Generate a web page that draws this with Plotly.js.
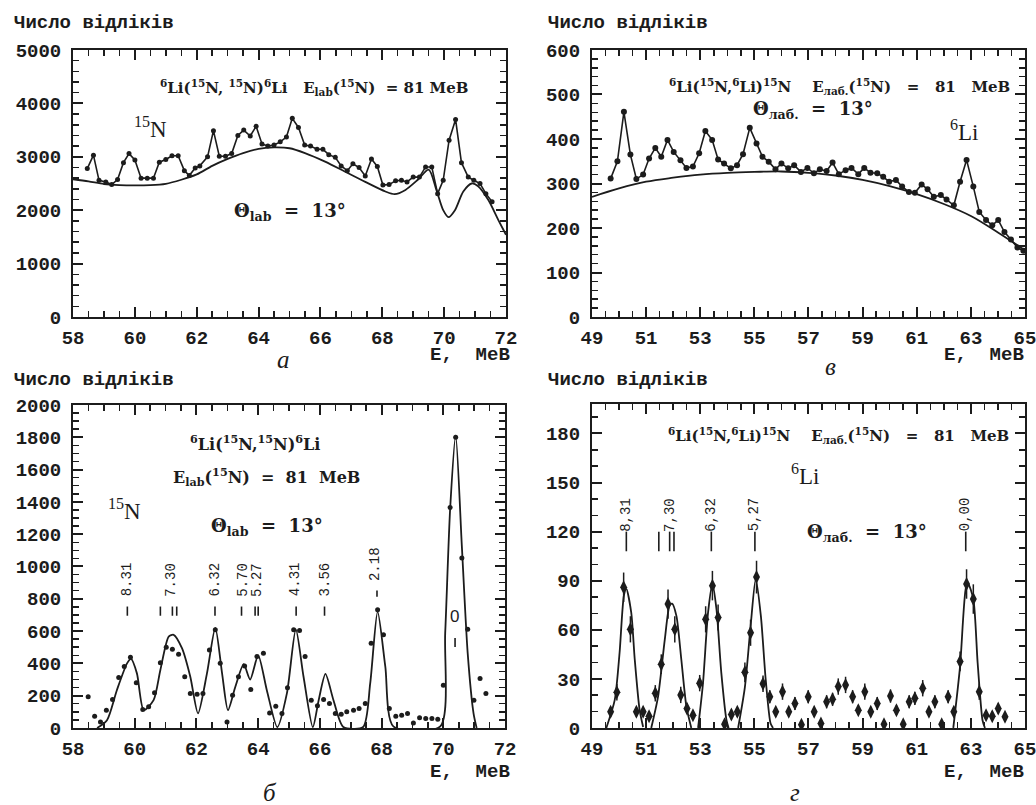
<!DOCTYPE html>
<html><head><meta charset="utf-8">
<script src="https://cdn.plot.ly/plotly-3.0.1.min.js"></script>
<style>html,body{margin:0;padding:0;background:#fff}</style>
</head><body><div id="chart" style="width:1036px;height:805px"></div>
<script>
// ---- Panel а : 6Li(15N,15N)6Li, spectrum + background
const aE = [58.46,58.66,58.84,59.06,59.25,59.44,59.63,59.81,60.0,60.2,60.4,60.6,60.79,61.0,61.2,61.4,61.6,61.76,61.95,62.1,62.35,62.54,62.73,62.93,63.13,63.33,63.52,63.73,63.92,64.11,64.3,64.5,64.7,64.9,65.09,65.29,65.49,65.68,65.89,66.08,66.27,66.48,66.67,66.87,67.05,67.25,67.45,67.65,67.84,68.02,68.22,68.43,68.62,68.8,69.0,69.2,69.4,69.6,69.79,69.97,70.16,70.37,70.56,70.78,70.96,71.16,71.35,71.55];
const aN = [2780,3030,2560,2530,2480,2575,2890,3060,2940,2600,2600,2600,2900,2950,3020,3020,2740,2650,2790,2830,3000,3490,3010,3010,3060,3400,3500,3390,3570,3240,3200,3220,3280,3370,3720,3550,3220,3200,3140,3140,3040,2990,2830,2740,2870,2800,2640,2960,2820,2470,2480,2550,2560,2530,2620,2620,2810,2810,2310,2560,3310,3700,2890,2620,2560,2500,2310,2160];
const aBgE = [58,58.5,59,59.5,60,60.5,61,61.5,62,62.5,63,63.5,64,64.5,65,65.5,66.15,66.8,67.45,68.1,68.4,68.75,69.15,69.5,69.75,69.97,70.14,70.35,70.62,70.89,71.1,71.43,71.75,72];
const aBgN = [2580,2540,2490,2470,2465,2470,2495,2570,2670,2830,2960,3070,3150,3175,3160,3070,2910,2720,2530,2350,2300,2380,2570,2760,2380,2000,1870,2000,2350,2500,2450,2190,1820,1540];

// ---- Panel в : 6Li(15N,6Li)15N, spectrum + background
const vE = [49.69,49.94,50.18,50.42,50.64,50.89,51.11,51.34,51.56,51.79,52.02,52.27,52.49,52.73,52.96,53.19,53.44,53.66,53.88,54.13,54.36,54.58,54.83,55.08,55.3,55.53,55.78,56.0,56.25,56.47,56.72,56.96,57.2,57.42,57.67,57.89,58.12,58.37,58.59,58.84,59.06,59.29,59.54,59.76,59.98,60.23,60.46,60.71,60.93,61.18,61.4,61.63,61.89,62.1,62.37,62.6,62.84,63.09,63.31,63.56,63.79,64.01,64.24,64.48,64.72,64.94];
const vN = [311,350,461,365,310,320,356,380,360,398,371,352,335,338,368,418,398,354,345,334,341,366,425,390,360,349,332,345,334,341,326,335,323,332,328,347,321,330,335,321,335,324,323,315,304,308,293,281,279,298,287,270,274,264,251,304,353,293,236,218,206,218,191,174,156,149];
const vBgE = [49,50,51,52,53,54,55,56,57,58,59,60,61,62,63,64,65];
const vBgN = [270,289,304,313,320,324,326,327,324,318,308,294,276,254,227,190,150];

// ---- Panel б : background-subtracted 15N spectrum + fit
const bE = [58.49,58.70,58.89,59.08,59.28,59.48,59.66,59.86,60.05,60.26,60.45,60.64,60.83,61.02,61.22,61.42,61.62,61.8,62.02,62.21,62.42,62.61,62.77,62.99,63.17,63.36,63.56,63.76,63.96,64.17,64.37,64.57,64.77,64.95,65.15,65.34,65.52,65.72,65.92,66.12,66.31,66.5,66.69,66.87,67.09,67.27,67.47,67.66,67.87,68.06,68.25,68.46,68.65,68.84,69.03,69.23,69.43,69.63,69.82,70.0,70.22,70.4,70.6,70.79,70.99,71.19,71.38];
const bN = [193,73,37,110,176,313,380,438,280,114,131,218,404,500,487,456,317,214,209,214,483,608,400,37,203,317,384,238,442,462,93,135,89,249,608,603,442,172,137,176,151,89,85,100,110,120,151,525,732,577,120,73,79,89,31,64,58,58,54,265,1365,1800,1053,612,172,307,214];
const bFitE = [58.78,59.1,59.42,59.75,59.88,60.07,60.29,60.61,60.83,61.1,61.26,61.53,61.8,62.05,62.34,62.61,62.83,63.02,63.26,63.53,63.74,64.0,64.28,64.62,64.93,65.22,65.47,65.77,65.96,66.18,66.44,66.76,67.4,67.63,67.87,68.12,68.38,69.9,70.06,70.22,70.4,70.6,70.79,70.98,71.08];
const bFitN = [0,48,234,400,428,338,110,172,359,566,577,494,317,90,338,620,338,110,255,395,300,450,234,5,214,610,317,5,172,335,172,6,6,276,720,380,10,10,587,1354,1810,1126,462,89,0];
const bLevelLabels = ['8.31','7.30','6.32','5.70','5.27','4.31','3.56','2.18'];
const bLevelLabelE = [59.74,61.15,62.6,63.48,63.94,65.18,66.16,67.77];
const bLevelLabelY = [919,919,919,919,919,919,919,1012];
const bMarkE = [59.76,60.83,61.22,61.36,62.6,63.46,63.9,64.0,65.23,66.15];
const bMark218E = 67.85, bMark0E = 70.38;

// ---- Panel г : background-subtracted 6Li spectrum + fit
const gE = [49.69,49.92,50.17,50.42,50.64,50.89,51.11,51.34,51.56,51.81,52.06,52.28,52.51,52.73,52.98,53.2,53.45,53.66,53.9,54.15,54.37,54.65,54.86,55.08,55.32,55.57,55.79,56.04,56.27,56.5,56.74,56.99,57.21,57.46,57.67,57.89,58.1,58.37,58.63,58.84,59.08,59.3,59.54,59.79,60.03,60.25,60.5,60.72,60.93,61.22,61.45,61.67,61.92,62.16,62.37,62.6,62.84,63.09,63.31,63.56,63.79,64.01,64.26];
const gN = [9.9,21.8,86,60.3,9.9,9.9,7.2,21.2,39,75.7,60.3,20.2,11.9,7.8,27.4,66.4,87,67.5,2.3,8.2,9.9,34,58.2,92.2,27,19.1,9.9,22.2,9.9,15,2,19.1,9.9,2.7,16,17.5,25.3,26.3,19.1,10.9,22.2,9.9,15,2.3,19.5,10.9,2.3,16,18.1,24.3,9.9,16,2.3,19.1,9.9,40.7,88,78.8,22.2,7.8,7.2,11.9,6.8];
const gErr = [3,5,9,8,3,3,3,5,6,9,8,5,3,3,5,8,9,8,2,3,3,6,8,10,5,4,3,5,3,4,2,4,3,2,4,4,5,5,4,3,5,3,4,2,4,3,2,4,4,5,3,4,2,4,3,6,9,9,5,3,3,3,3];
const gFitE = [49.53,49.84,50.02,50.18,50.27,50.45,50.58,50.76,50.89,51.0,51.19,51.44,51.69,51.87,51.96,52.12,52.3,52.49,52.67,52.8,52.92,53.1,53.29,53.45,53.6,53.78,53.97,54.05,54.2,54.4,54.65,54.86,55.05,55.24,55.42,55.6,55.69,60,62.35,62.6,62.82,62.9,63.09,63.25,63.43,63.52];
const gFitN = [0,17,46,81,85,70.6,42,11,0.6,null,0,19,54,75,76,68.5,42,13,0,null,0,27,70.6,88,72.6,33.5,4.7,0,null,0,25,62,91,68.5,29.4,2.7,0,null,0,37.6,86,88,78.8,39.7,4.7,0];
const gLevelLabels = ['8,31','7,30','6,32','5,27','0,00'];
const gLevelLabelE = [50.27,51.9,53.41,55.02,62.81];
const gMarkE = [50.27,51.47,51.87,52.03,53.41,55.02,62.81];

const INK = '#1c1c1c';
const MONO = 'Liberation Mono';
const SERIF = 'DejaVu Serif';
const tickFont = {family: MONO, size: 19, color: INK, weight: 'bold'};

function xAx(dom, r0, r1, anchor) {
  return {domain: dom, range: [r0, r1], anchor: anchor, tick0: r0, dtick: 2,
    ticks: 'inside', ticklen: 10, tickwidth: 2, tickcolor: INK,
    minor: {dtick: 0.5, tick0: r0, ticks: 'inside', ticklen: 6, tickwidth: 1.5, tickcolor: INK},
    mirror: 'allticks', showline: true, linewidth: 2, linecolor: INK,
    showgrid: false, zeroline: false, tickfont: tickFont, ticklabelstandoff: 2,
    ticklabeloverflow: 'allow', fixedrange: true};
}
function yAx(dom, r1, dt, mdt, anchor) {
  return {domain: dom, range: [0, r1], anchor: anchor, tick0: 0, dtick: dt,
    ticks: 'inside', ticklen: 10, tickwidth: 2, tickcolor: INK,
    minor: {dtick: mdt, ticks: 'inside', ticklen: 6, tickwidth: 1.5, tickcolor: INK},
    mirror: 'allticks', showline: true, linewidth: 2, linecolor: INK,
    showgrid: false, zeroline: false, tickfont: tickFont, ticklabelstandoff: 6,
    ticklabeloverflow: 'allow', fixedrange: true};
}

const traces = [
  {x: aBgE, y: aBgN, xaxis: 'x', yaxis: 'y', mode: 'lines', line: {color: INK, width: 1.8, shape: 'spline', smoothing: 0.8}},
  {x: aE, y: aN, xaxis: 'x', yaxis: 'y', mode: 'lines+markers', line: {color: INK, width: 1.6}, marker: {size: 5, color: INK}},
  {x: vBgE, y: vBgN, xaxis: 'x2', yaxis: 'y2', mode: 'lines', line: {color: INK, width: 1.8, shape: 'spline'}},
  {x: vE, y: vN, xaxis: 'x2', yaxis: 'y2', mode: 'lines+markers', line: {color: INK, width: 1.6}, marker: {size: 6, color: INK}},
  {x: bFitE, y: bFitN, xaxis: 'x3', yaxis: 'y3', mode: 'lines', line: {color: INK, width: 1.8, shape: 'spline', smoothing: 0.7}},
  {x: bE, y: bN, xaxis: 'x3', yaxis: 'y3', mode: 'markers', marker: {size: 5, color: INK}, cliponaxis: false},
  {x: gFitE, y: gFitN, xaxis: 'x4', yaxis: 'y4', mode: 'lines', connectgaps: false, line: {color: INK, width: 1.8, shape: 'spline', smoothing: 0.7}},
  {x: gE, y: gN, xaxis: 'x4', yaxis: 'y4', mode: 'markers', marker: {size: 10, color: INK, symbol: 'diamond-tall'},
   error_y: {type: 'data', array: gErr, visible: true, color: INK, thickness: 1.5, width: 0}}
];

const shapes = [];
bMarkE.forEach(e => shapes.push({type: 'line', xref: 'x3', yref: 'y3', x0: e, x1: e, y0: 695, y1: 752, line: {color: INK, width: 1.6}}));
shapes.push({type: 'line', xref: 'x3', yref: 'y3', x0: bMark218E, x1: bMark218E, y0: 812, y1: 852, line: {color: INK, width: 1.6}});
shapes.push({type: 'line', xref: 'x3', yref: 'y3', x0: bMark0E, x1: bMark0E, y0: 502, y1: 557, line: {color: INK, width: 1.6}});
gMarkE.forEach(e => shapes.push({type: 'line', xref: 'x4', yref: 'y4', x0: e, x1: e, y0: 108, y1: 120, line: {color: INK, width: 1.6}}));

const ann = [];
const reacFont = {family: SERIF, size: 15, color: INK, weight: 'bold'};
const reacFontB = {family: SERIF, size: 16, color: INK, weight: 'bold'};
const thetaFont = {family: SERIF, size: 18, color: INK, weight: 'bold'};
const serifBig = {family: 'Liberation Serif', size: 23, color: INK};
const titleFont = {family: MONO, size: 19, color: INK, weight: 'bold'};
const NB = '\u00a0';
const sp = n => NB.repeat(n);
function A(o) { ann.push(Object.assign({showarrow: false}, o)); }
// axis titles
[[0.0116, 0.9714], [0.527, 0.9714], [0.0116, 0.528], [0.527, 0.528]].forEach(p =>
  A({xref: 'paper', yref: 'paper', x: p[0], y: p[1], xanchor: 'left', yanchor: 'middle', text: 'Число відліків', font: titleFont}));
// E, MeB
[[0.4942, 0.5590], [0.9903, 0.5590], [0.4942, 0.0410], [0.9903, 0.0410]].forEach(p =>
  A({xref: 'paper', yref: 'paper', x: p[0], y: p[1], xanchor: 'right', yanchor: 'middle', text: 'E,' + sp(2) + 'MeB', font: tickFont}));
// panel letters
[[0.2732, 0.5528, 'а'], [0.8021, 0.5441, 'в'], [0.2606, 0.0155, 'б'], [0.7674, 0.0155, 'г']].forEach(p =>
  A({xref: 'paper', yref: 'paper', x: p[0], y: p[1], xanchor: 'center', yanchor: 'middle', text: p[2], font: {family: 'Liberation Serif', size: 25, color: INK, style: 'italic'}}));

const S = s => '<sup>' + s + '</sup>';
const reacA = S('6') + 'Li(' + S('15') + 'N,' + sp(1) + S('15') + 'N)' + S('6') + 'Li' + sp(3) + 'E<sub>lab</sub>(' + S('15') + 'N)' + sp(2) + '=' + sp(1) + '81' + sp(1) + 'MeB';
const reacV = S('6') + 'Li(' + S('15') + 'N,' + S('6') + 'Li)' + S('15') + 'N' + sp(4) + 'E<sub>лаб.</sub>(' + S('15') + 'N)' + sp(3) + '=' + sp(3) + '81' + sp(3) + 'MeB';
const thetaLab = 'Θ<sub>lab</sub>' + sp(2) + '=' + sp(2) + '13°';
const thetaLav = 'Θ<sub>лаб.</sub>' + sp(2) + '=' + sp(2) + '13°';

// panel а
A({xref: 'x', yref: 'y', x: 60.75, y: 4307, xanchor: 'left', yanchor: 'middle', text: reacA, font: reacFont});
A({xref: 'x', yref: 'y', x: 60.49, y: 3558, xanchor: 'center', yanchor: 'middle', text: S('15') + 'N', font: serifBig});
A({xref: 'x', yref: 'y', x: 63.14, y: 1966, xanchor: 'left', yanchor: 'middle', text: thetaLab, font: thetaFont});
// panel в
A({xref: 'x2', yref: 'y2', x: 51.77, y: 519, xanchor: 'left', yanchor: 'middle', text: reacV, font: reacFont});
A({xref: 'x2', yref: 'y2', x: 54.88, y: 465, xanchor: 'left', yanchor: 'middle', text: thetaLav, font: thetaFont});
A({xref: 'x2', yref: 'y2', x: 62.76, y: 420, xanchor: 'center', yanchor: 'middle', text: S('6') + 'Li', font: serifBig});
// panel б
A({xref: 'x3', yref: 'y3', x: 63.89, y: 1765, xanchor: 'center', yanchor: 'middle', text: S('6') + 'Li(' + S('15') + 'N,' + S('15') + 'N)' + S('6') + 'Li', font: reacFontB});
A({xref: 'x3', yref: 'y3', x: 64.28, y: 1554, xanchor: 'center', yanchor: 'middle', text: 'E<sub>lab</sub>(' + S('15') + 'N)' + sp(2) + '=' + sp(2) + '81' + sp(2) + 'MeB', font: reacFontB});
A({xref: 'x3', yref: 'y3', x: 59.68, y: 1350, xanchor: 'center', yanchor: 'middle', text: S('15') + 'N', font: serifBig});
A({xref: 'x3', yref: 'y3', x: 64.3, y: 1245, xanchor: 'center', yanchor: 'middle', text: thetaLab, font: thetaFont});
bLevelLabels.forEach((t, i) => A({xref: 'x3', yref: 'y3', x: bLevelLabelE[i], y: bLevelLabelY[i], xanchor: 'center', yanchor: 'middle', textangle: -90, text: t, font: {family: MONO, size: 14, color: INK}}));
A({xref: 'x3', yref: 'y3', x: 70.36, y: 689, xanchor: 'center', yanchor: 'middle', text: '0', font: {family: 'Liberation Sans', size: 17, color: INK}});
// panel г
A({xref: 'x4', yref: 'y4', x: 51.75, y: 179, xanchor: 'left', yanchor: 'middle', text: reacV, font: reacFont});
A({xref: 'x4', yref: 'y4', x: 56.88, y: 155, xanchor: 'center', yanchor: 'middle', text: S('6') + 'Li', font: serifBig});
A({xref: 'x4', yref: 'y4', x: 56.88, y: 119, xanchor: 'left', yanchor: 'middle', text: thetaLav, font: thetaFont});
gLevelLabels.forEach((t, i) => A({xref: 'x4', yref: 'y4', x: gLevelLabelE[i], y: 130.5, xanchor: 'center', yanchor: 'middle', textangle: -90, text: t, font: {family: MONO, size: 14, color: INK}}));

const layout = {
  width: 1036, height: 805, margin: {l: 0, r: 0, t: 0, b: 0},
  paper_bgcolor: '#fff', plot_bgcolor: '#fff', showlegend: false,
  xaxis: xAx([0.0705, 0.4884], 58, 72, 'y'),
  yaxis: yAx([0.6062, 0.9379], 5000, 1000, 200, 'x'),
  xaxis2: xAx([0.5714, 0.9894], 49, 65, 'y2'),
  yaxis2: yAx([0.6062, 0.9379], 600, 100, 20, 'x2'),
  xaxis3: xAx([0.0705, 0.4875], 58, 72, 'y3'),
  yaxis3: yAx([0.0957, 0.4969], 2000, 200, 50, 'x3'),
  xaxis4: xAx([0.5714, 0.9894], 49, 65, 'y4'),
  yaxis4: yAx([0.0957, 0.4981], 198, 30, 10, 'x4'),
  shapes: shapes, annotations: ann
};
Plotly.newPlot('chart', traces, layout, {staticPlot: true, displayModeBar: false});
</script></body></html>
